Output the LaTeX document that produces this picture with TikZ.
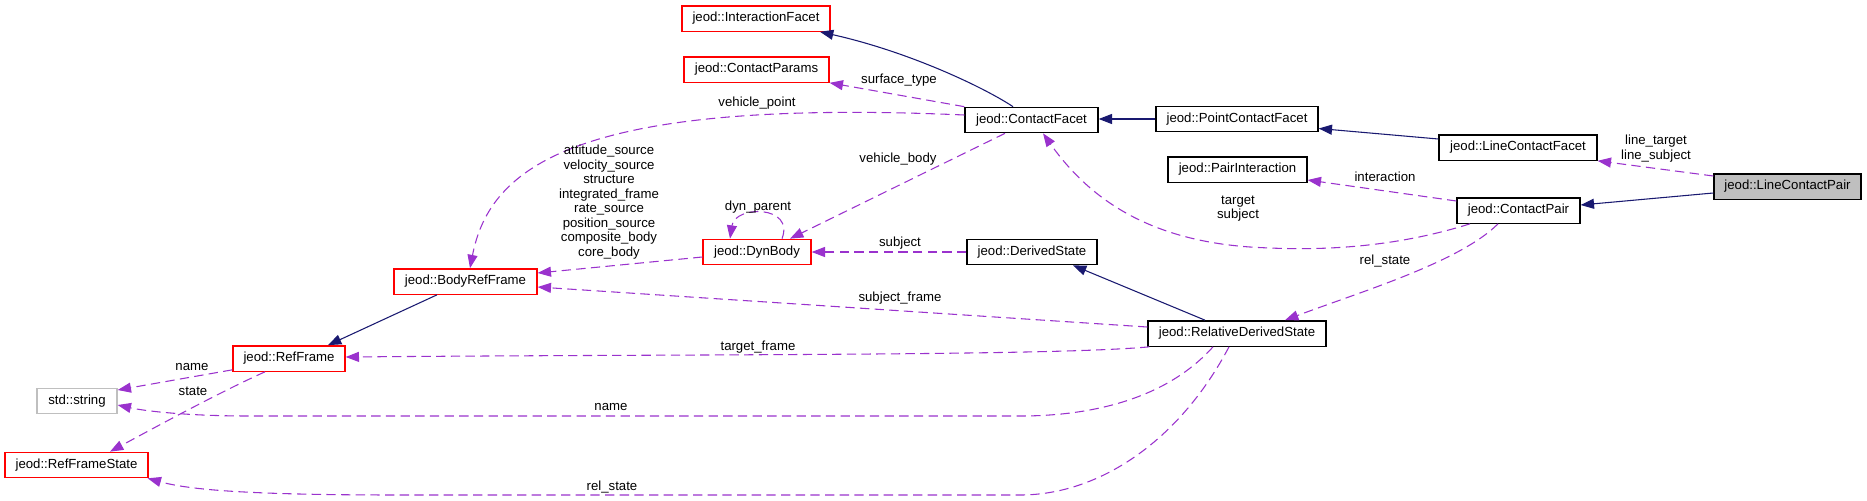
\documentclass[tikz,border=0pt]{standalone}
\usepackage{fontspec}
\setmainfont{Liberation Sans}
\usetikzlibrary{arrows.meta,calc}
\definecolor{navyc}{HTML}{191970}
\definecolor{orchid}{HTML}{9A32CD}
\definecolor{boxgray}{HTML}{BFBFBF}
\tikzset{
  cls/.style={draw=black, rectangle, inner sep=0pt, line width=1pt, minimum height=19pt,
    font=\fontsize{9.9}{12}\selectfont, text height=0.72em, text depth=0.21em},
  redcls/.style={cls, draw=red},
  graycls/.style={cls, draw=boxgray},
  curcls/.style={cls, fill=boxgray},
  lbl/.style={inner sep=0pt, align=center, font=\fontsize{9.9}{10.9}\selectfont,
    text height=0.72em, text depth=0.21em},
  mlbl/.style={inner sep=0pt, align=center, font=\fontsize{9.9}{10.9}\selectfont},
  inh/.style={draw=navyc, line width=0.8pt, -{Triangle[length=10pt,width=7.5pt,fill=navyc]}},
  uses/.style={draw=orchid, line width=0.8pt, dash pattern=on 7pt off 4pt,
    -{Triangle[length=10pt,width=7.5pt,fill=orchid]}}
}
\begin{document}
\begin{tikzpicture}[x=0.75pt,y=-0.75pt]
\useasboundingbox (0,0) rectangle (1867,500);

% nodes
\node[redcls, minimum width=111pt] (IF) at (756,18.5) {jeod::InteractionFacet};
\node[redcls, minimum width=108.75pt] (CP) at (756.5,69.5) {jeod::ContactParams};
\node[cls, minimum width=99.75pt] (CF) at (1031.5,120) {jeod::ContactFacet};
\node[cls, minimum width=121.5pt] (PCF) at (1237,119) {jeod::PointContactFacet};
\node[cls, minimum width=118.5pt] (LCF) at (1518,147.5) {jeod::LineContactFacet};
\node[curcls, minimum width=110.25pt] (LCP) at (1787.5,186.5) {jeod::LineContactPair};
\node[cls, minimum width=104.25pt] (PI) at (1237.5,169.5) {jeod::PairInteraction};
\node[cls, minimum width=92.25pt] (CPair) at (1518.5,210.5) {jeod::ContactPair};
\node[cls, minimum width=97.5pt] (DS) at (1032,252) {jeod::DerivedState};
\node[redcls, minimum width=81pt] (DB) at (757,252) {jeod::DynBody};
\node[redcls, minimum width=107.25pt] (BRF) at (465.5,281.5) {jeod::BodyRefFrame};
\node[redcls, minimum width=84pt] (RF) at (289,358.5) {jeod::RefFrame};
\node[graycls, minimum width=60pt] (STR) at (77,401) {std::string};
\node[redcls, minimum width=107.25pt] (RFS) at (76.5,465) {jeod::RefFrameState};
\node[cls, minimum width=133.5pt] (RDS) at (1237,333.5) {jeod::RelativeDerivedState};

% inheritance edges
\draw[inh] ($(CF.north)+(-18.5,0)$) .. controls (985,88) and (910,52) .. ($(IF.south)+(64,0)$);
\draw[inh] (PCF.west) -- (CF.east |- PCF.west);
\draw[inh] ($(LCF.west)+(0,-8.5)$) -- ($(PCF.east)+(0,9.5)$);
\draw[inh] ($(LCP.west)+(0,6.5)$) -- ($(CPair.east)+(0,-5.5)$);
\draw[inh] ($(RDS.north)+(-32,0)$) -- ($(DS.south)+(41,0)$);
\draw[inh] ($(BRF.south)+(-28.5,0)$) -- ($(RF.north)+(39,0)$);

% usage edges
\draw[uses] (CF.north west) -- (CP.south east);
\draw[uses] ($(CF.west)+(0,-5)$) .. controls (580,98) and (490,165) .. ($(BRF.north)+(4.5,0)$);
\draw[uses] ($(CF.south)+(-26.5,0)$) -- ($(DB.north)+(33,0)$);
\draw[uses] ($(DB.north)+(25,0)$) .. controls (795,205) and (735,205) .. ($(DB.north)+(-27,0)$);
\draw[uses] (DS.west) -- (DB.east);
\draw[uses] ($(DB.west)+(0,5)$) -- ($(BRF.east)+(0,-8.5)$);
\draw[uses] ($(RF.south west)+(0,-2)$) -- ($(STR.east)+(0,-11)$);
\draw[uses] ($(RF.south)+(-24,0)$) .. controls (220,392) and (150,430) .. ($(RFS.north)+(33.5,0)$);
\draw[uses] ($(RDS.west)+(0,-6.5)$) -- ($(BRF.east)+(0,5.5)$);
\draw[uses] ($(RDS.south west)+(2,0)$) .. controls (1050,356) and (700,354) .. ($(RF.east)+(0,-1.5)$);
\draw[uses] ($(RDS.south)+(-24,0)$) .. controls (1170,395) and (1100,416) .. (1020,416)
   -- (250,416) .. controls (180,416) and (140,410) .. ($(STR.east)+(0,4)$);
\draw[uses] ($(RDS.south)+(-8,0)$) .. controls (1180,440) and (1100,495) .. (1020,495)
   -- (400,495) .. controls (250,495) and (190,490) .. ($(RFS.south east)+(-1,0)$);
\draw[uses] ($(CPair.south)+(-48.5,0)$) .. controls (1380,252) and (1300,250) .. (1250,247)
   .. controls (1150,240) and (1090,200) .. ($(CF.south)+(11.5,0)$);
\draw[uses] ($(CPair.west)+(0,-9.5)$) -- ($(PI.east)+(0,10.5)$);
\draw[uses] ($(CPair.south)+(-20.5,0)$) .. controls (1460,262) and (1360,292) .. ($(RDS.north)+(48,0)$);
\draw[uses] ($(LCP.west)+(0,-10.5)$) -- (LCF.south east);

% labels
\node[lbl] (l1) at (899,80) {surface\_type};
\node[lbl] (l2) at (757,103) {vehicle\_point};
\node[lbl] (l3) at (898,159) {vehicle\_body};
\node[lbl] (l4) at (758,207) {dyn\_parent};
\node[lbl] (l5) at (900,243) {subject};
\node[mlbl] (l6) at (609,202) {attitude\_source\\velocity\_source\\structure\\integrated\_frame\\rate\_source\\position\_source\\composite\_body\\core\_body};
\node[lbl] (l7) at (900,298) {subject\_frame};
\node[lbl] (l8) at (758,347) {target\_frame};
\node[lbl] (l9) at (611,407) {name};
\node[lbl] (l10) at (612,487) {rel\_state};
\node[lbl] (l11) at (192,367) {name};
\node[lbl] (l12) at (193,392) {state};
\node[lbl] (l13) at (1385,178) {interaction};
\node[mlbl] (l14) at (1238,208.5) {target\\subject};
\node[lbl] (l15) at (1385,261) {rel\_state};
\node[mlbl] (l16) at (1656,148.5) {line\_target\\line\_subject};
\end{tikzpicture}
\end{document}
